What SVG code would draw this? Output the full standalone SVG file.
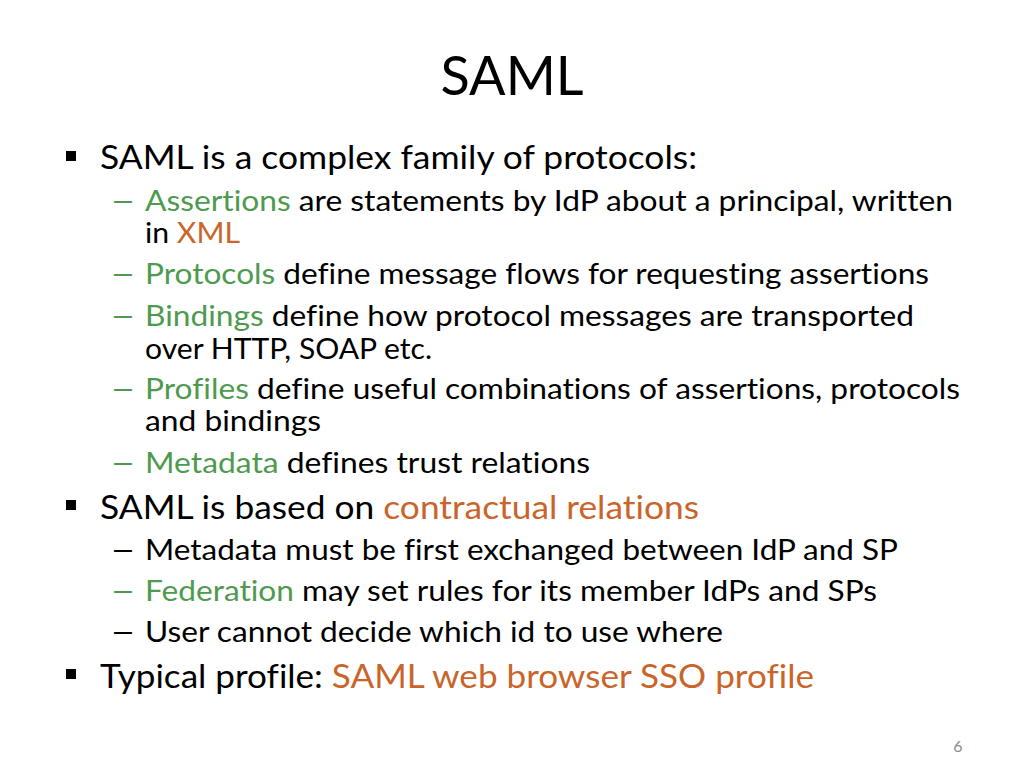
<svg xmlns="http://www.w3.org/2000/svg" width="1024" height="768" viewBox="0 0 1024 768">
<style>
text{font-family:Lato,"Open Sans","Liberation Sans",sans-serif;fill:#000;font-variant-ligatures:none}
.t{font-size:54px}
.l1{font-size:32px}
.l2{font-size:28px}
.g{fill:#4E9A4F}
.o{fill:#C9652B}
.pn{font-size:16px;fill:#8C8C8C}
.sq{fill:#000}
</style>
<rect width="1024" height="768" fill="#fff"/>
<text class="t" x="512" y="95" text-anchor="middle">SAML</text>
<g id="bullets">
<rect class="sq" x="66" y="151" width="10" height="10"/>
<rect class="sq" x="66" y="500" width="10" height="10"/>
<rect class="sq" x="66" y="669" width="10" height="10"/>
</g>
<g id="level1">
<text class="l1" x="100" y="169" textLength="597" lengthAdjust="spacingAndGlyphs">SAML is a complex family of protocols:</text>
<text class="l1" x="100" y="519" textLength="599" lengthAdjust="spacingAndGlyphs">SAML is based on <tspan class="o">contractual relations</tspan></text>
<text class="l1" x="100" y="688" textLength="714" lengthAdjust="spacingAndGlyphs">Typical profile: <tspan class="o">SAML web browser SSO profile</tspan></text>
</g>
<g id="level2">
<text class="l2 g" transform="translate(110,211) scale(1.6,1)">–</text>
<text class="l2" x="145" y="211" textLength="808" lengthAdjust="spacingAndGlyphs"><tspan class="g">Assertions</tspan> are statements by IdP about a principal, written</text>
<text class="l2" x="145" y="243" textLength="95" lengthAdjust="spacingAndGlyphs">in <tspan class="o">XML</tspan></text>
<text class="l2 g" transform="translate(110,284) scale(1.6,1)">–</text>
<text class="l2" x="145" y="284" textLength="784" lengthAdjust="spacingAndGlyphs"><tspan class="g">Protocols</tspan> define message flows for requesting assertions</text>
<text class="l2 g" transform="translate(110,326) scale(1.6,1)">–</text>
<text class="l2" x="145" y="326" textLength="769" lengthAdjust="spacingAndGlyphs"><tspan class="g">Bindings</tspan> define how protocol messages are transported</text>
<text class="l2" x="145" y="359" textLength="287" lengthAdjust="spacingAndGlyphs">over HTTP, SOAP etc.</text>
<text class="l2 g" transform="translate(110,399) scale(1.6,1)">–</text>
<text class="l2" x="145" y="399" textLength="815" lengthAdjust="spacingAndGlyphs"><tspan class="g">Profiles</tspan> define useful combinations of assertions, protocols</text>
<text class="l2" x="145" y="431" textLength="176" lengthAdjust="spacingAndGlyphs">and bindings</text>
<text class="l2 g" transform="translate(110,473) scale(1.6,1)">–</text>
<text class="l2" x="145" y="473" textLength="445" lengthAdjust="spacingAndGlyphs"><tspan class="g">Metadata</tspan> defines trust relations</text>
<text class="l2" transform="translate(110,560) scale(1.6,1)">–</text>
<text class="l2" x="145" y="560" textLength="753" lengthAdjust="spacingAndGlyphs">Metadata must be first exchanged between IdP and SP</text>
<text class="l2 g" transform="translate(110,601) scale(1.6,1)">–</text>
<text class="l2" x="145" y="601" textLength="732" lengthAdjust="spacingAndGlyphs"><tspan class="g">Federation</tspan> may set rules for its member IdPs and SPs</text>
<text class="l2" transform="translate(110,642) scale(1.6,1)">–</text>
<text class="l2" x="145" y="642" textLength="578" lengthAdjust="spacingAndGlyphs">User cannot decide which id to use where</text>
</g>
<text class="pn" x="958" y="752" text-anchor="middle">6</text>
</svg>
